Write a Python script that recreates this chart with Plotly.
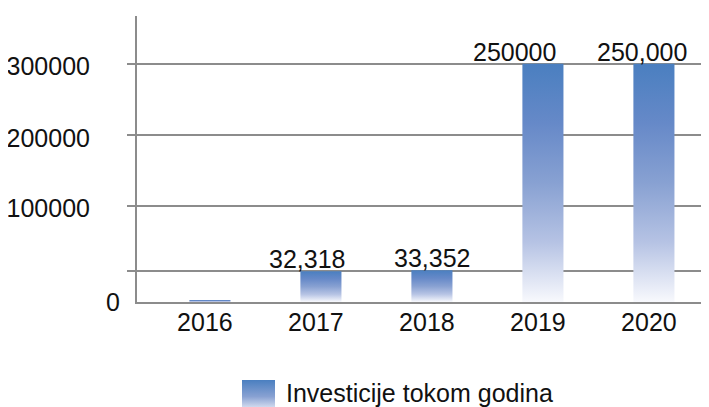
import plotly.graph_objects as go

years = ["2016", "2017", "2018", "2019", "2020"]
values = [2000, 32318, 33352, 250000, 250000]
value_labels = ["", "32,318", "33,352", "250000", "250,000"]
grid_values = [32600, 101000, 175000, 250000]
grid_labels = ["", "100000", "200000", "300000"]
series_name = "Investicije tokom godina"

# style
label_xshift = [0, -14, 0, -28, -12]
bar_width = 0.37
grad = [[0.0, "#f8f9fd"], [0.25, "#b6c3e4"], [0.5, "#88a1d2"], [0.75, "#6689c8"], [1.0, "#4a7fc0"]]
FONT = "Liberation Sans, Arial, sans-serif"
FS = 25
OFF = 8  # page body margin
W, H = 709 - OFF, 407 - OFF
ML, MR, MT, MB = 137 - OFF, 0, 16 - OFF, 407 - 302
PW, PH = W - ML - MR, H - MT - MB
SLOT = 111  # px per category
X0 = -0.657
X1 = X0 + PW / SLOT


def px_x(page_x):
    return (page_x - OFF - ML) / PW


def px_y(page_y):
    return (H - MB - (page_y - OFF)) / PH


fig = go.Figure()
for i, v in enumerate(values):
    x0, x1 = i - bar_width / 2, i + bar_width / 2
    fig.add_trace(go.Scatter(
        x=[x0, x1, x1, x0, x0], y=[0, 0, v, v, 0],
        fill="toself", mode="none",
        fillgradient=dict(type="vertical", colorscale=grad),
        showlegend=False, hoverinfo="skip", name=years[i]))

for i, (v, t) in enumerate(zip(values, value_labels)):
    if t:
        fig.add_annotation(x=i, y=v, text=t, showarrow=False, xanchor="center",
                           yanchor="bottom", xshift=label_xshift[i], yshift=-4,
                           font=dict(size=FS, color="#111111", family=FONT))

# hidden trace to activate yaxis2 for the "0" label
fig.add_trace(go.Scatter(x=[0], y=[0], yaxis="y2", mode="markers",
                         marker=dict(opacity=0), showlegend=False, hoverinfo="skip"))

# legend (manual)
svg = ("data:image/svg+xml;utf8,<svg xmlns='http://www.w3.org/2000/svg' width='33' height='33'>"
       "<defs><linearGradient id='g' x1='0' y1='0' x2='0' y2='1'>"
       "<stop offset='0' stop-color='%234a7fc0'/><stop offset='0.5' stop-color='%2388a1d2'/>"
       "<stop offset='1' stop-color='%23f8f9fd'/></linearGradient></defs>"
       "<rect width='33' height='33' fill='url(%23g)'/></svg>")
fig.add_layout_image(source=svg, xref="paper", yref="paper",
                     x=px_x(242), y=px_y(380),
                     sizex=33 / PW, sizey=33 / PH, xanchor="left", yanchor="top",
                     sizing="stretch", layer="above")
fig.add_annotation(xref="paper", yref="paper", x=px_x(284), y=px_y(393),
                   text=series_name, showarrow=False, xanchor="left", yanchor="middle",
                   font=dict(size=FS, color="#111111", family=FONT))

fig.update_layout(
    width=W, height=H, margin=dict(l=ML, r=MR, t=MT, b=MB, autoexpand=False),
    paper_bgcolor="white", plot_bgcolor="white", showlegend=False,
    font=dict(family=FONT, size=FS, color="#111111"),
    xaxis=dict(range=[X0, X1], tickvals=list(range(len(years))), ticktext=years,
               showgrid=False, zeroline=False, showline=True, linecolor="#8c8c8c",
               linewidth=2, ticks="", ticklabelstandoff=-3, ticklabelshift=-5,
               automargin=False,
               tickfont=dict(size=FS, family=FONT, color="#111111"), fixedrange=True),
    yaxis=dict(range=[0, 300000], tickvals=grid_values, ticktext=grid_labels,
               showgrid=True, gridcolor="#8c8c8c", gridwidth=2, zeroline=False,
               showline=True, linecolor="#8c8c8c", linewidth=2,
               ticks="outside", ticklen=8, tickwidth=2, tickcolor="#8c8c8c",
               ticklabelstandoff=32, ticklabelshift=3, automargin=False,
               tickfont=dict(size=FS, family=FONT, color="#111111"), fixedrange=True),
    yaxis2=dict(range=[0, 300000], overlaying="y", side="left", tickvals=[0], ticktext=["0"],
                showgrid=False, zeroline=False, showline=False, ticks="",
                ticklabelstandoff=16, automargin=False,
                tickfont=dict(size=FS, family=FONT, color="#111111"),
                fixedrange=True),
)

fig.write_html("out.html")
